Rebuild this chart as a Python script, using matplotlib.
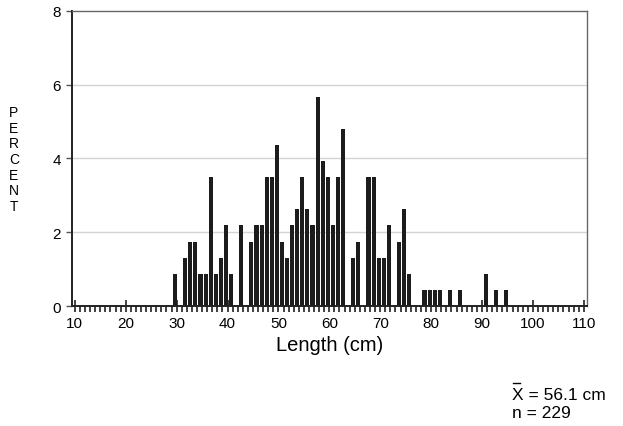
import numpy as np
import matplotlib
matplotlib.use("Agg")
import matplotlib.pyplot as plt
from matplotlib.lines import Line2D

plt.rcParams['font.family'] = ['Liberation Sans', 'DejaVu Sans']

# fish counted per 1 cm length class
lengths = [30, 32, 33, 34, 35, 36, 37, 38, 39, 40, 41,
           43, 45, 46, 47, 48, 49, 50, 51, 52, 53, 54, 55, 56, 57, 58, 59,
           60, 61, 62, 63, 65, 66, 68, 69, 70, 71, 72, 74, 75, 76,
           79, 80, 81, 82, 84, 86, 91, 93, 95]
counts = [2, 3, 4, 4, 2, 2, 8, 2, 3, 5, 2,
          5, 4, 5, 5, 8, 8, 10, 4, 3, 5, 6, 8, 6, 5, 13, 9,
          8, 5, 8, 11, 3, 4, 8, 8, 3, 3, 5, 4, 6, 2,
          1, 1, 1, 1, 1, 1, 2, 1, 1]
mean_len = 56.1
n_fish = 229

xticks = list(range(10, 111, 10))
yticks = [0, 2, 4, 6, 8]

pct = np.array(counts) / n_fish * 100

fig = plt.figure(figsize=(6.23, 4.27), dpi=100)
ax = fig.add_axes([0.116, 0.281, 0.826, 0.691])

for y in [2, 4, 6]:
    ax.axhline(y, color='#d4d4d4', lw=1.0, zorder=0)

ax.bar(np.array(lengths) - 0.3, pct, width=0.8, color='#1c1c1c', zorder=2)

ax.set_xlim(9.5, 110.6)
ax.set_ylim(0, 8)
ax.set_xticks(xticks)
ax.set_xticks(range(10, 111), minor=True)
ax.set_yticks(yticks)
ax.tick_params(axis='x', which='major', direction='inout', length=9, width=1.2,
               labelsize=11, pad=3, color='#222222')
ax.tick_params(axis='x', which='minor', direction='out', length=4, width=1.3,
               color='#333333')
ax.tick_params(axis='y', direction='out', length=4, width=1.0, labelsize=11,
               pad=4, color='#555555')

for side in ['left', 'bottom']:
    ax.spines[side].set_linewidth(1.4)
    ax.spines[side].set_color('#222222')
for side in ['top', 'right']:
    ax.spines[side].set_linewidth(1.0)
    ax.spines[side].set_color('#666666')

ax.set_xlabel('Length (cm)', fontsize=14.5, labelpad=3)

fig.text(14 / 623, 1 - 160 / 427, '\n'.join('PERCENT'), ha='center', va='center',
         fontsize=10, linespacing=1.15)

fig.text(512 / 623, 1 - 396 / 427, 'X = %.1f cm' % mean_len, ha='left',
         va='center', fontsize=12.5)
fig.text(512 / 623, 1 - 414 / 427, 'n = %d' % n_fish, ha='left',
         va='center', fontsize=12.5)
# bar over the X
fig.add_artist(Line2D([513 / 623, 520 / 623], [1 - 384 / 427, 1 - 384 / 427],
                      color='black', lw=1.0))

fig.savefig('out.png', dpi=100)
